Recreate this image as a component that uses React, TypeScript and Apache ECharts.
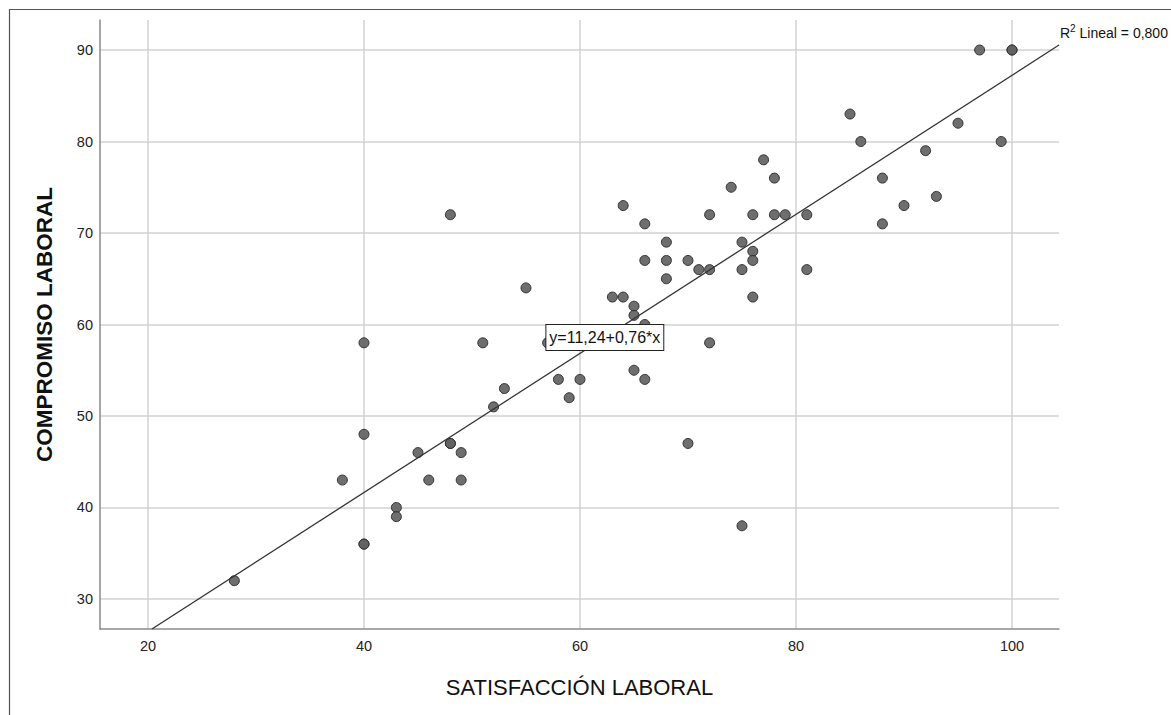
import React, { useEffect, useRef } from "react";
import * as echarts from "echarts";

const satisfaccion = [28, 38, 40, 40, 40, 40, 43, 43, 45, 46, 48, 48, 48, 49, 49, 51, 52, 53, 55, 57, 58, 59, 60, 63, 64, 64, 65, 65, 65, 66, 66, 66, 66, 68, 68, 68, 70, 70, 71, 72, 72, 72, 74, 75, 75, 75, 76, 76, 76, 76, 77, 78, 78, 79, 81, 81, 85, 86, 88, 88, 90, 92, 93, 95, 97, 99, 100, 100];
const compromiso = [32, 43, 58, 48, 36, 36, 40, 39, 46, 43, 72, 47, 47, 46, 43, 58, 51, 53, 64, 58, 54, 52, 54, 63, 63, 73, 62, 61, 55, 60, 71, 67, 54, 69, 67, 65, 67, 47, 66, 72, 66, 58, 75, 69, 66, 38, 72, 68, 67, 63, 78, 76, 72, 72, 72, 66, 83, 80, 76, 71, 73, 79, 74, 82, 90, 80, 90, 90];

const xTicks = [20, 40, 60, 80, 100];
const yTicks = [30, 40, 50, 60, 70, 80, 90];
const xRange = [15.56, 104.35];
const yRange = [26.72, 93.28];

const intercept = 11.24;
const slope = 0.76;
const equationLabel = "y=11,24+0,76*x";
const equationX = 62.3;
const r2Text = "0,800";

const FONT = "'Liberation Sans', Arial, sans-serif";

export default function App() {
  const ref = useRef<HTMLDivElement>(null);

  useEffect(() => {
    if (!ref.current) return;
    const chart = echarts.init(ref.current, null, { renderer: "svg" });
    const points = satisfaccion.map((x, i) => [x, compromiso[i]]);
    const x0 = (yRange[0] - intercept) / slope;
    const x1 = xRange[1];
    const lineData = [
      [x0, intercept + slope * x0],
      [x1, intercept + slope * x1],
    ];

    chart.setOption({
      animation: false,
      backgroundColor: "#ffffff",
      textStyle: { fontFamily: FONT },
      grid: { left: 100, top: 20, right: 112, bottom: 86, containLabel: false },
      xAxis: {
        type: "value",
        min: xRange[0],
        max: xRange[1],
        name: "SATISFACCIÓN LABORAL",
        nameLocation: "middle",
        nameGap: 47,
        nameTextStyle: { fontFamily: FONT, fontSize: 22, color: "#111" },
        axisLine: { show: true, lineStyle: { color: "#8a8a8a", width: 1.5 } },
        axisTick: { show: false, customValues: xTicks },
        axisLabel: { customValues: xTicks, fontFamily: FONT, fontSize: 14.5, color: "#222", margin: 9 },
        splitLine: { show: true, lineStyle: { color: "#d2d2d2", width: 1.5 } },
      },
      yAxis: {
        type: "value",
        min: yRange[0],
        max: yRange[1],
        name: "COMPROMISO LABORAL",
        nameLocation: "middle",
        nameGap: 44,
        nameTextStyle: { fontFamily: FONT, fontSize: 22.5, fontWeight: "bold", color: "#111" },
        axisLine: { show: true, lineStyle: { color: "#8a8a8a", width: 1.5 } },
        axisTick: { show: false, customValues: yTicks },
        axisLabel: { customValues: yTicks, fontFamily: FONT, fontSize: 14.5, color: "#222", margin: 7 },
        splitLine: { show: true, lineStyle: { color: "#d2d2d2", width: 1.5 } },
      },
      graphic: [
        {
          type: "rect",
          silent: true,
          shape: { x: 9.5, y: 9.5, width: 1400, height: 900 },
          style: { fill: "none", stroke: "#555", lineWidth: 1.2 },
          z: 100,
        },
        {
          type: "text",
          x: 1060,
          y: 23,
          style: {
            text: "{r|R}{s|2}{r| Lineal = " + r2Text + "}",
            rich: {
              r: { fontFamily: FONT, fontSize: 14, fill: "#111", verticalAlign: "bottom", lineHeight: 17 },
              s: { fontFamily: FONT, fontSize: 10, fill: "#111", verticalAlign: "top", lineHeight: 17 },
            },
          },
        },
      ],
      series: [
        {
          type: "scatter",
          data: points,
          symbol: "circle",
          symbolSize: 10,
          itemStyle: { color: "#626262", borderColor: "#2a2a2a", borderWidth: 1, opacity: 0.92 },
          z: 2,
        },
        {
          type: "line",
          data: lineData,
          symbol: "none",
          lineStyle: { color: "#333", width: 1.3 },
          z: 3,
          silent: true,
          markPoint: {
            symbol: "rect",
            symbolSize: 1,
            itemStyle: { color: "rgba(0,0,0,0)" },
            label: {
              show: true,
              position: "inside",
              formatter: equationLabel,
              fontFamily: FONT,
              fontSize: 16,
              color: "#111",
              backgroundColor: "#fff",
              borderColor: "#222",
              borderWidth: 1,
              padding: [5, 3, 4, 3],
            },
            data: [{ coord: [equationX, intercept + slope * equationX] }],
            z: 5,
          },
        },
      ],
    });

    return () => chart.dispose();
  }, []);

  return (
    <div
      ref={ref}
      style={{ position: "absolute", left: 0, top: 0, width: 1171, height: 715 }}
    />
  );
}
